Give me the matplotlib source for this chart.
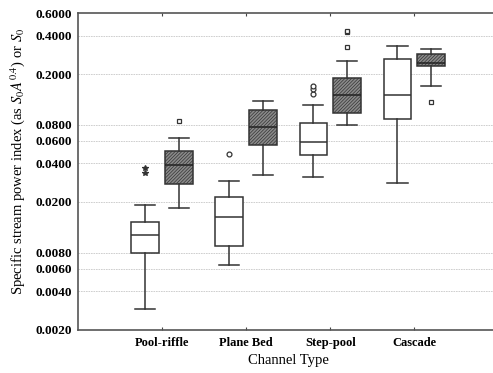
import numpy as np
import matplotlib
matplotlib.use("Agg")
import matplotlib.pyplot as plt

plt.rcParams['font.family'] = ['Liberation Serif', 'DejaVu Serif']
plt.rcParams['mathtext.fontset'] = 'stix'
plt.rcParams['hatch.linewidth'] = 0.5

channels = ['Pool-riffle', 'Plane Bed', 'Step-pool', 'Cascade']

# values: [whislo, q1, med, q3, whishi]
white_stats = [
    [0.00289, 0.00797, 0.0111, 0.0140, 0.0189],
    [0.00641, 0.00903, 0.0151, 0.0219, 0.0293],
    [0.0311, 0.0462, 0.0591, 0.0832, 0.1145],
    [0.0283, 0.089, 0.136, 0.261, 0.331],
]
white_fliers = [[0.0336, 0.0365], [0.0473], [0.1396, 0.152, 0.161], []]

hatched_stats = [
    [0.0178, 0.0276, 0.0386, 0.0497, 0.0632],
    [0.0324, 0.0557, 0.077, 0.104, 0.1236],
    [0.0798, 0.0986, 0.136, 0.187, 0.251],
    [0.160, 0.231, 0.245, 0.285, 0.312],
]
hatched_fliers = [[0.0853], [], [0.327, 0.428, 0.435], [0.120]]

yticks = [0.002, 0.004, 0.006, 0.008, 0.02, 0.04, 0.06, 0.08, 0.2, 0.4, 0.6]


def make_stats(stats, fliers):
    out = []
    for s, f in zip(stats, fliers):
        out.append({'whislo': s[0], 'q1': s[1], 'med': s[2], 'q3': s[3],
                    'whishi': s[4], 'fliers': f})
    return out


fig = plt.figure(figsize=(4.93, 3.73), dpi=100)
ax = fig.add_axes([0.158, 0.116, 0.853, 0.849])
ax.set_yscale('log')

pos = np.arange(1, len(channels) + 1)
edge = '#333333'

wb = ax.bxp(make_stats(white_stats, white_fliers), positions=pos - 0.2,
            widths=0.33, capwidths=0.24, patch_artist=True, manage_ticks=False,
            boxprops=dict(facecolor='white', edgecolor=edge, linewidth=1.1),
            medianprops=dict(color=edge, linewidth=1.1),
            whiskerprops=dict(color=edge, linewidth=1.1),
            capprops=dict(color=edge, linewidth=1.1),
            flierprops=dict(marker='o', markersize=3.5, markerfacecolor='white',
                            markeredgecolor=edge, markeredgewidth=0.9))
# pool-riffle extremes drawn as stars
wb['fliers'][0].set_marker('*')
wb['fliers'][0].set_markerfacecolor(edge)
wb['fliers'][0].set_markersize(4)

hb = ax.bxp(make_stats(hatched_stats, hatched_fliers), positions=pos + 0.2,
            widths=0.33, capwidths=0.24, patch_artist=True, manage_ticks=False,
            boxprops=dict(facecolor='#8a8a8a', edgecolor=edge, linewidth=1.1,
                          hatch='//////////'),
            medianprops=dict(color='#222222', linewidth=1.1),
            whiskerprops=dict(color=edge, linewidth=1.1),
            capprops=dict(color=edge, linewidth=1.1),
            flierprops=dict(marker='s', markersize=3.5, markerfacecolor='white',
                            markeredgecolor=edge, markeredgewidth=0.9))

ax.set_xlim(0, 5)
ax.set_ylim(0.002, 0.6)
ax.set_yticks(yticks)
ax.set_yticklabels(['%.4f' % v for v in yticks], fontweight='bold', fontsize=9.5)
ax.yaxis.set_minor_locator(matplotlib.ticker.NullLocator())
ax.tick_params(axis='y', length=0, pad=4)
ax.set_xticks(pos)
ax.set_xticklabels(channels, fontweight='bold', fontsize=9)
ax.tick_params(axis='x', direction='in', length=2, top=True, pad=5, color='#444444')

for v in yticks[1:-1]:
    ax.axhline(v, color='#c8c8c8', linestyle=(0, (2, 1)), linewidth=0.6, zorder=0)

for side in ['left', 'bottom', 'top']:
    ax.spines[side].set_color('#555555')
    ax.spines[side].set_linewidth(1.2)
ax.spines['right'].set_visible(False)

ax.set_xlabel('Channel Type', fontsize=10.5, labelpad=4)
ax.set_ylabel('Specific stream power index (as $S_0A^{0.4}$) or $S_0$', fontsize=10.5)
ax.yaxis.set_label_coords(-0.12, 0.53)

fig.savefig('out.png', dpi=100)
